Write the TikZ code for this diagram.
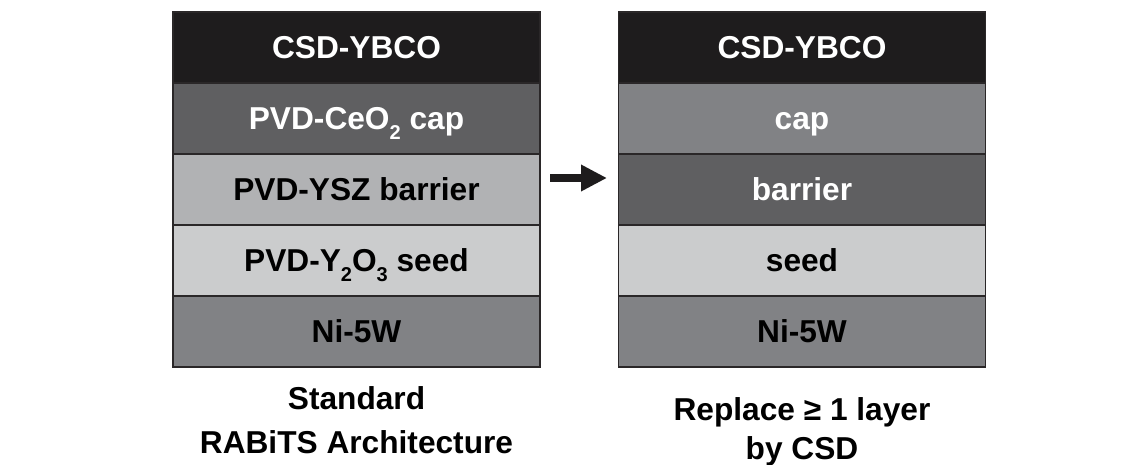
\documentclass[tikz,border=0pt]{standalone}
\usepackage{fontspec}
\setmainfont{Liberation Sans}
\usetikzlibrary{arrows.meta}
\definecolor{cBlack}{HTML}{1E1C1D}
\definecolor{cDark}{HTML}{5F5F61}
\definecolor{cMid}{HTML}{818285}
\definecolor{cLight}{HTML}{B1B2B4}
\definecolor{cPale}{HTML}{CBCCCD}
\definecolor{cEdge}{HTML}{2A2728}
\newcommand{\lowsub}[1]{\raisebox{-0.32em}{\fontsize{12}{12}\selectfont\bfseries #1}}
\tikzset{
  layer/.style={draw=cEdge, line width=0.8pt, minimum width=220.2pt, minimum height=42.6pt,
    inner sep=0pt, text height=13.3pt, text depth=0pt, font=\fontsize{19}{22}\selectfont\bfseries},
  caption/.style={anchor=base, inner sep=0pt, font=\fontsize{19}{22}\selectfont\bfseries},
  bigarrow/.style={draw=cBlack, line width=4.8pt, -{Triangle[length=15.6pt,width=15pt]}}
}
\begin{document}
\begin{tikzpicture}[x=0.6pt,y=-0.6pt]
\useasboundingbox (0,0) rectangle (1138,465);
% left stack
\node[layer, fill=cBlack, text=white] (A1) at (356.5,47.5) {CSD-YBCO};
\node[layer, fill=cDark, text=white] (A2) at (356.5,118.5) {PVD-CeO\lowsub{2} cap};
\node[layer, fill=cLight, text=black] (A3) at (356.5,189.5) {PVD-YSZ barrier};
\node[layer, fill=cPale, text=black] (A4) at (356.5,260.5) {PVD-Y\lowsub{2}O\lowsub{3} seed};
\node[layer, fill=cMid, text=black] (A5) at (356.5,331.5) {Ni-5W};
% right stack
\node[layer, fill=cBlack, text=white] (B1) at (802,47.5) {CSD-YBCO};
\node[layer, fill=cMid, text=white] (B2) at (802,118.5) {cap};
\node[layer, fill=cDark, text=white] (B3) at (802,189.5) {barrier};
\node[layer, fill=cPale, text=black] (B4) at (802,260.5) {seed};
\node[layer, fill=cMid, text=black] (B5) at (802,331.5) {Ni-5W};
% arrow
\coordinate (as) at (550,178);
\coordinate (ae) at (607,178);
\draw[bigarrow] (as) -- (ae);
% captions
\node[caption] (capA1) at (356.5,409) {Standard};
\node[caption] (capA2) at (356.5,453) {RABiTS Architecture};
\node[caption] (capB1) at (802,420) {Replace ≥ 1 layer};
\node[caption] (capB2) at (802,459) {by CSD};
\end{tikzpicture}
\end{document}
